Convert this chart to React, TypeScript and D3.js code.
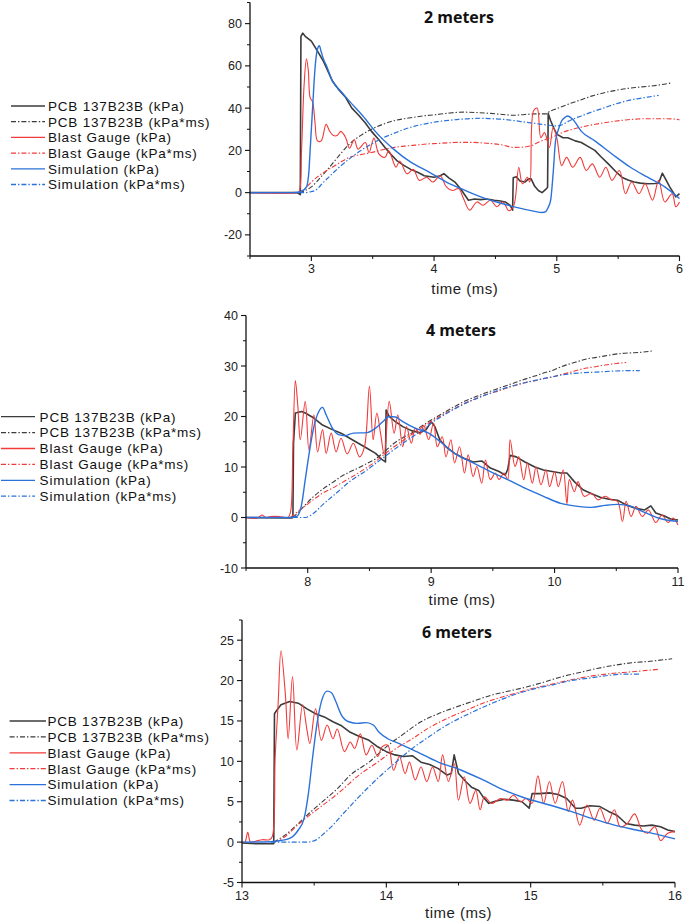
import React from 'react';
import * as d3 from 'd3';

type Pt = [number, number];

// ---------- 2 meters ----------
const m2PcbKpa: Pt[] = [[2.5,0],[2.88,0],[2.9,-0.5],[2.91,-1],[2.915,74],[2.93,75.5],[2.95,74],[3.0,71.7],[3.05,67],[3.1,62],[3.17,53],[3.22,49],[3.28,45],[3.33,40],[3.38,37],[3.44,33],[3.49,29],[3.55,25],[3.6,21.4],[3.65,18],[3.7,15],[3.75,13],[3.81,11],[3.87,9.5],[3.92,8],[4.0,7.3],[4.05,8],[4.08,9],[4.12,7],[4.17,5],[4.22,1.5],[4.28,-3.6],[4.33,-3],[4.38,-3.3],[4.43,-3],[4.49,-3.6],[4.54,-4],[4.58,-4.4],[4.62,-6],[4.64,-8.3],[4.645,7],[4.67,7.5],[4.7,5.5],[4.74,5],[4.77,6.5],[4.79,6.6],[4.82,3],[4.85,1],[4.88,0],[4.91,1.5],[4.925,2.5],[4.93,37.5],[4.95,34],[4.98,30],[5.0,27.7],[5.05,26],[5.09,26],[5.15,24.5],[5.2,23.7],[5.25,22],[5.31,20],[5.36,17],[5.42,13.6],[5.48,10],[5.53,7.3],[5.58,6],[5.63,5],[5.68,4.5],[5.74,4.2],[5.8,4.3],[5.83,4.5],[5.86,9.2],[5.89,6],[5.92,2.7],[5.95,0],[5.97,-2],[6.0,-0.5]];
const m2PcbImp: Pt[] = [[2.9,0],[2.95,1],[3.0,2.7],[3.08,7.5],[3.17,13.6],[3.24,18.5],[3.31,23],[3.4,27],[3.49,30],[3.58,32.3],[3.67,34],[3.76,35],[3.85,35.8],[3.94,36.5],[4.03,37],[4.13,37.7],[4.24,38.1],[4.35,37.9],[4.46,37.5],[4.56,37],[4.65,36.6],[4.74,37],[4.83,37.3],[4.92,37.3],[4.93,38],[4.98,39.3],[5.03,40.5],[5.1,42],[5.2,44],[5.29,45.8],[5.38,47.2],[5.47,48.3],[5.56,49.2],[5.65,49.8],[5.74,50.3],[5.84,51],[5.94,52]];
const m2BgKpa: Pt[] = [[2.5,0],[2.88,0],[2.9,0.5],[2.92,20],[2.94,50],[2.96,63.3],[2.975,58],[2.99,45],[3.01,43],[3.03,33],[3.05,24.5],[3.08,24.5],[3.12,32.3],[3.15,29],[3.18,27],[3.21,27],[3.24,29],[3.28,26],[3.31,21],[3.35,25],[3.38,20.6],[3.44,23.7],[3.47,19],[3.51,25.8],[3.55,18.3],[3.6,16.7],[3.63,19.8],[3.69,12],[3.72,15],[3.78,8.9],[3.83,11],[3.88,5.8],[3.94,7.3],[3.99,5],[4.05,8],[4.1,2.7],[4.15,1],[4.2,1.9],[4.24,-2.8],[4.29,-8.3],[4.35,-4.4],[4.4,-6],[4.46,-3.6],[4.51,-6.7],[4.56,-4.4],[4.61,-8.6],[4.65,-6],[4.69,12],[4.72,4.2],[4.76,7.3],[4.78,5],[4.81,38.6],[4.84,40],[4.87,26],[4.9,28.4],[4.94,21.4],[4.97,30.8],[5.0,26],[5.04,12.8],[5.08,16.7],[5.13,12],[5.19,16.7],[5.24,10.5],[5.29,13.6],[5.35,7.3],[5.4,12],[5.45,5.8],[5.51,10.5],[5.56,-0.5],[5.61,5],[5.67,-0.5],[5.72,4.2],[5.78,-3.6],[5.83,5.8],[5.88,-4.4],[5.94,-0.5],[5.97,-6.7],[6.0,-4.4]];
const m2BgImp: Pt[] = [[2.9,0],[2.95,2],[3.0,5],[3.08,8.8],[3.17,12],[3.24,14.5],[3.31,16.7],[3.4,18],[3.49,19],[3.58,20.3],[3.67,21.4],[3.76,22],[3.85,22.5],[3.94,23],[4.03,23.3],[4.12,23.6],[4.2,23.8],[4.29,23.8],[4.38,23.6],[4.47,23.2],[4.56,22.5],[4.65,21.4],[4.74,21.6],[4.8,22.4],[4.85,23.8],[4.9,25],[4.95,26],[5.0,27.2],[5.06,28.8],[5.13,30],[5.2,31],[5.29,32.1],[5.38,33],[5.47,33.8],[5.56,34.4],[5.65,34.8],[5.74,35],[5.82,35],[5.9,35],[6.0,34.5]];
const m2SimKpa: Pt[] = [[2.5,0],[2.85,0],[2.9,0.3],[2.93,1],[2.96,2.7],[2.98,10],[2.99,20],[3.01,40],[3.03,59],[3.05,68],[3.065,69.5],[3.08,66.7],[3.1,63],[3.12,60.5],[3.17,53],[3.24,48],[3.31,43.3],[3.42,36.3],[3.53,28.4],[3.67,20.6],[3.81,14.4],[3.96,9.7],[4.1,5],[4.24,1.4],[4.38,-2],[4.53,-4.8],[4.67,-7],[4.81,-8.75],[4.88,-9.4],[4.91,-9],[4.93,-7],[4.95,-3.6],[4.97,8.9],[4.99,24.5],[5.02,31],[5.04,34],[5.07,35.8],[5.09,36.3],[5.13,34.7],[5.2,29],[5.31,24.5],[5.45,18.3],[5.6,12],[5.74,7.3],[5.88,2.7],[6.0,-2.8]];
const m2SimImp: Pt[] = [[2.9,0],[2.95,0],[3.0,0.5],[3.03,1],[3.1,5],[3.17,8.9],[3.24,12.7],[3.31,16],[3.4,19.8],[3.49,23],[3.58,25.8],[3.67,28],[3.76,30],[3.85,31.6],[3.94,32.7],[4.03,33.6],[4.12,34.2],[4.2,34.7],[4.29,35],[4.38,35.2],[4.47,35],[4.56,34.7],[4.65,34.1],[4.74,33.4],[4.83,32.7],[4.92,32],[5.0,31.6],[5.05,32.3],[5.09,33.6],[5.14,35],[5.2,36.3],[5.29,38.3],[5.38,40],[5.47,41.8],[5.56,43.3],[5.65,44.4],[5.74,45.2],[5.83,46]];

// ---------- 4 meters ----------
const m4PcbKpa: Pt[] = [[7.5,0],[7.87,-0.1],[7.88,0],[7.885,14.7],[7.9,20.7],[7.95,21],[7.98,20.7],[8.05,19.7],[8.12,18.3],[8.2,17.4],[8.27,16.7],[8.34,15.7],[8.41,14.7],[8.48,13.7],[8.55,12.7],[8.6,11.5],[8.63,11],[8.635,21.3],[8.66,20],[8.71,19],[8.77,18],[8.84,17.2],[8.91,16.8],[8.96,17.4],[9.0,19],[9.03,18],[9.07,15.4],[9.12,14],[9.19,12.7],[9.27,11.7],[9.34,11],[9.41,11.2],[9.48,9.8],[9.55,9.1],[9.6,8.4],[9.62,9.5],[9.64,12.3],[9.69,12],[9.76,11],[9.84,10],[9.91,9.4],[9.98,9.1],[10.05,8.8],[10.1,8.8],[10.16,7.1],[10.23,5.5],[10.3,4.7],[10.37,4],[10.44,3.6],[10.51,3.4],[10.58,2.5],[10.66,1.8],[10.73,1.5],[10.78,2.3],[10.82,0.9],[10.89,0.3],[10.94,-0.3],[11.0,-0.5]];
const m4PcbImp: Pt[] = [[7.88,0],[7.93,1.2],[7.98,2.5],[8.05,4.2],[8.12,5.6],[8.2,6.9],[8.27,8.1],[8.34,9],[8.41,9.8],[8.48,10.7],[8.55,11.6],[8.62,13],[8.7,14.7],[8.77,15.8],[8.84,16.7],[8.91,17.9],[8.98,19],[9.05,20],[9.12,21],[9.2,22.1],[9.27,23],[9.34,23.7],[9.41,24.4],[9.48,25],[9.55,25.6],[9.62,26.2],[9.69,26.8],[9.76,27.4],[9.84,28],[9.91,28.6],[9.98,29.1],[10.05,29.8],[10.12,30.4],[10.19,30.9],[10.26,31.4],[10.34,31.7],[10.41,32],[10.48,32.3],[10.55,32.5],[10.62,32.6],[10.69,32.7],[10.8,33]];
const m4BgKpa: Pt[] = [[7.5,0],[7.55,-0.2],[7.6,0],[7.63,0.5],[7.66,0],[7.7,0.2],[7.77,0.2],[7.84,0],[7.86,1],[7.88,14],[7.9,27.1],[7.92,22],[7.94,15.4],[7.98,23],[8.01,13.4],[8.05,20.3],[8.08,13],[8.12,17.4],[8.15,12.7],[8.19,16.7],[8.23,13],[8.27,15.7],[8.32,12.6],[8.37,14.7],[8.42,12],[8.46,14],[8.5,26],[8.53,15.4],[8.56,20.7],[8.59,16.7],[8.62,12.5],[8.66,23],[8.7,16.7],[8.73,20.3],[8.77,14],[8.8,18],[8.84,14.7],[8.87,17.7],[8.91,16.5],[8.94,18.2],[8.98,15.4],[9.02,18.7],[9.05,14],[9.09,16],[9.12,12],[9.16,15.4],[9.19,10.8],[9.23,14],[9.27,8.8],[9.3,12.4],[9.34,8.1],[9.37,10.1],[9.41,6.8],[9.44,11.4],[9.48,7.5],[9.52,8.8],[9.55,7.5],[9.59,8.8],[9.62,7.5],[9.64,15.4],[9.68,10.1],[9.71,12],[9.75,7.5],[9.78,10.8],[9.82,6.8],[9.85,10],[9.89,6.5],[9.93,9.4],[9.96,6.1],[10.0,9.1],[10.03,6.1],[10.07,9.4],[10.1,2.7],[10.12,7.5],[10.16,5.1],[10.19,7.1],[10.24,4.2],[10.3,4.8],[10.35,3.5],[10.41,4.2],[10.46,3.5],[10.51,3.2],[10.55,-0.8],[10.58,3.2],[10.62,0.2],[10.66,2.2],[10.71,0.2],[10.76,1.5],[10.82,-1],[10.87,0.5],[10.92,-1],[10.96,-0.1],[11.0,-1.5]];
const m4BgImp: Pt[] = [[7.86,0],[7.92,1.2],[7.98,2.3],[8.05,3.6],[8.12,4.8],[8.2,5.8],[8.27,6.8],[8.34,7.8],[8.41,8.8],[8.48,9.9],[8.55,11.1],[8.62,12.5],[8.7,14],[8.77,15.2],[8.84,16.4],[8.91,17.6],[8.98,18.7],[9.05,19.7],[9.12,20.7],[9.2,21.7],[9.27,22.6],[9.34,23.3],[9.41,24],[9.48,24.6],[9.55,25.1],[9.62,25.7],[9.69,26.2],[9.76,26.7],[9.84,27.1],[9.91,27.5],[9.98,27.8],[10.05,28.3],[10.12,28.7],[10.19,29.2],[10.26,29.6],[10.34,29.9],[10.41,30.2],[10.5,30.5],[10.58,30.7]];
const m4SimKpa: Pt[] = [[7.5,0],[7.85,0],[7.91,0.2],[7.95,2.5],[7.98,7.5],[8.02,14],[8.05,18],[8.09,21],[8.12,21.8],[8.15,20.3],[8.2,17.7],[8.25,16.4],[8.3,16.2],[8.37,16.7],[8.48,16.8],[8.55,17.7],[8.61,19],[8.66,20],[8.71,19.9],[8.77,19],[8.87,17.7],[8.98,16.7],[9.09,14.7],[9.19,12.7],[9.34,10.8],[9.48,9.1],[9.62,7.5],[9.76,5.8],[9.91,4.2],[10.05,2.8],[10.19,2.2],[10.3,2],[10.41,2.4],[10.51,2.6],[10.62,2.2],[10.73,1],[10.84,-0.1],[11.0,-0.8]];
const m4SimImp: Pt[] = [[7.88,0],[7.98,0],[8.05,0.9],[8.12,2.5],[8.23,4.8],[8.34,7.1],[8.48,9.4],[8.62,12],[8.77,14.7],[8.91,17],[9.05,19.5],[9.19,21.5],[9.34,23.3],[9.48,24.6],[9.62,25.8],[9.76,26.7],[9.91,27.5],[10.05,28.2],[10.19,28.6],[10.34,28.8],[10.48,29],[10.69,29.1]];

// ---------- 6 meters ----------
const m6PcbKpa: Pt[] = [[13,-0.1],[13.1,-0.2],[13.22,-0.2],[13.225,15.9],[13.24,16.3],[13.27,17],[13.33,17.4],[13.39,17.2],[13.45,16.5],[13.51,15.9],[13.57,15.5],[13.63,14.9],[13.69,14.4],[13.75,13.6],[13.81,13.1],[13.88,12.6],[13.94,11.8],[14.0,11.2],[14.06,10.8],[14.12,10.6],[14.18,10.7],[14.24,9.9],[14.3,9.6],[14.36,9.1],[14.42,8.3],[14.45,8.5],[14.47,10.8],[14.5,8.5],[14.55,7.5],[14.59,6.8],[14.64,6.4],[14.67,5.6],[14.71,4.8],[14.76,5.1],[14.82,5.3],[14.88,5.2],[14.94,5],[14.99,4.2],[15.01,6],[15.06,6],[15.13,6.1],[15.19,5.9],[15.25,5.4],[15.31,4.2],[15.35,4.2],[15.41,4.5],[15.48,4.4],[15.54,3.8],[15.6,3.3],[15.66,2.3],[15.72,2.1],[15.78,2],[15.84,2.1],[15.9,1.9],[15.95,1.5],[16.0,1.3]];
const m6PcbImp: Pt[] = [[13.22,0],[13.3,0.9],[13.39,2.3],[13.48,3.8],[13.57,5.2],[13.66,6.6],[13.75,8.3],[13.88,9.9],[14.0,11.8],[14.12,13.4],[14.24,14.9],[14.36,15.9],[14.48,16.7],[14.61,17.5],[14.73,18.2],[14.85,18.7],[14.97,19.2],[15.09,19.8],[15.22,20.5],[15.34,21],[15.46,21.5],[15.58,21.9],[15.7,22.2],[15.83,22.4],[15.98,22.7]];
const m6BgKpa: Pt[] = [[13,0],[13.02,0],[13.04,1.2],[13.06,0],[13.11,0.2],[13.14,0.3],[13.19,0.3],[13.21,0.7],[13.23,10.6],[13.25,17],[13.27,23.7],[13.3,18.4],[13.32,12.8],[13.35,20.5],[13.38,11.4],[13.42,17],[13.45,13.9],[13.47,12.2],[13.51,16.5],[13.55,12.6],[13.59,14.5],[13.63,12.8],[13.66,14],[13.71,11.2],[13.75,12.4],[13.78,11.6],[13.82,13.4],[13.86,10.8],[13.9,12],[13.94,10.6],[13.97,11.8],[14.01,12],[14.05,8.9],[14.09,10.6],[14.13,8.5],[14.16,9.9],[14.2,7.7],[14.24,9.3],[14.28,7.5],[14.32,9.3],[14.36,7.5],[14.39,10.8],[14.43,7.5],[14.47,9.7],[14.5,5.2],[14.54,8.1],[14.58,4.8],[14.62,6.4],[14.65,4],[14.68,5.6],[14.73,4.8],[14.79,5.4],[14.84,5.2],[14.88,5.8],[14.93,5],[14.97,5.4],[15.01,4.8],[15.05,8.2],[15.09,4.8],[15.13,7.5],[15.17,4.8],[15.22,7.5],[15.26,3.8],[15.29,5.2],[15.34,2.1],[15.39,4.6],[15.44,2.7],[15.48,4.2],[15.53,2.3],[15.58,4],[15.62,1.9],[15.67,2.3],[15.72,3.5],[15.77,1.5],[15.81,1.1],[15.86,1.9],[15.9,0.2],[15.95,1.1],[16.0,1.3]];
const m6BgImp: Pt[] = [[13.22,0],[13.3,0.7],[13.39,2.2],[13.48,3.5],[13.57,4.7],[13.69,6.4],[13.81,8.3],[13.94,9.9],[14.06,11.5],[14.18,12.8],[14.3,14.2],[14.42,15.3],[14.55,16.3],[14.67,17.2],[14.79,17.9],[14.91,18.5],[15.03,19.1],[15.16,19.6],[15.28,20.1],[15.4,20.5],[15.52,20.8],[15.64,21],[15.77,21.2],[15.89,21.4]];
const m6SimKpa: Pt[] = [[13,0],[13.2,0.05],[13.27,0.2],[13.33,0.45],[13.39,1.5],[13.43,2.9],[13.46,6],[13.49,10.6],[13.52,14.7],[13.55,17.4],[13.59,18.7],[13.62,18.5],[13.65,17.4],[13.69,15.7],[13.74,14.9],[13.8,14.7],[13.86,14.8],[13.91,14.5],[13.95,13.6],[14.01,12.8],[14.09,12.2],[14.21,11.2],[14.36,9.9],[14.52,8.9],[14.67,7.7],[14.82,6.4],[14.97,5.4],[15.13,4.6],[15.28,3.8],[15.43,2.9],[15.58,2.1],[15.73,1.5],[15.89,0.9],[16.0,0.4]];
const m6SimImp: Pt[] = [[13.2,0],[13.45,0],[13.51,0.25],[13.57,1.1],[13.63,2.1],[13.69,3.3],[13.81,5.6],[13.94,7.9],[14.06,9.8],[14.18,11.6],[14.3,13.1],[14.42,14.5],[14.55,15.7],[14.67,16.7],[14.79,17.6],[14.91,18.4],[15.03,19],[15.16,19.5],[15.28,20],[15.4,20.3],[15.52,20.6],[15.64,20.8],[15.75,20.8]];

// ---------- labels / ticks ----------
const seriesLabels = ['PCB 137B23B (kPa)', 'PCB 137B23B (kPa*ms)', 'Blast Gauge (kPa)', 'Blast Gauge (kPa*ms)', 'Simulation (kPa)', 'Simulation (kPa*ms)'];
const panelTitles = ['2 meters', '4 meters', '6 meters'];
const xLabel = 'time (ms)';
const xTicks2 = [3, 4, 5, 6];
const xTicks4 = [8, 9, 10, 11];
const xTicks6 = [13, 14, 15, 16];
const yTicks2 = [-20, 0, 20, 40, 60, 80];
const yTicks4 = [-10, 0, 10, 20, 30, 40];
const yTicks6 = [-5, 0, 5, 10, 15, 20, 25];

const COLORS = ['#3b3b3b', '#3b3b3b', '#f23a3a', '#f23a3a', '#2a72da', '#2a72da'];
const DASHED = [false, true, false, true, false, true];
const WIDTHS = [1.6, 1.1, 1.1, 1.1, 1.4, 1.2];
const CURVES = [d3.curveLinear, d3.curveMonotoneX, d3.curveCatmullRom.alpha(0.5), d3.curveMonotoneX, d3.curveMonotoneX, d3.curveMonotoneX];
const DASH = '5,2,1.4,2';
const FONT = '"Liberation Sans", Arial, sans-serif';

interface PanelCfg {
  title: string;
  series: Pt[][];
  xDomain: [number, number];
  yDomain: [number, number];
  xRange: [number, number];
  yRange: [number, number];
  xTicks: number[];
  yTicks: number[];
  xMinor: number;
  yMinor: number;
  titlePos: [number, number];
  legend: { x0: number; x1: number; tx: number; y0: number; dy: number };
  tickLabelY: number;
  axisLabelY: number;
}

const panels: PanelCfg[] = [
  {
    title: panelTitles[0],
    series: [m2PcbKpa, m2PcbImp, m2BgKpa, m2BgImp, m2SimKpa, m2SimImp],
    xDomain: [2.5, 6], yDomain: [-30, 90],
    xRange: [250, 679.5], yRange: [256, 2.5],
    xTicks: xTicks2, yTicks: yTicks2, xMinor: 0.5, yMinor: 10,
    titlePos: [459, 22.5],
    legend: { x0: 11, x1: 45, tx: 48, y0: 106, dy: 15.7 },
    tickLabelY: 272.5, axisLabelY: 294,
  },
  {
    title: panelTitles[1],
    series: [m4PcbKpa, m4PcbImp, m4BgKpa, m4BgImp, m4SimKpa, m4SimImp],
    xDomain: [7.5, 11], yDomain: [-10, 40],
    xRange: [246, 678], yRange: [568, 315.5],
    xTicks: xTicks4, yTicks: yTicks4, xMinor: 0.5, yMinor: 5,
    titlePos: [461, 336],
    legend: { x0: 1, x1: 35, tx: 39.6, y0: 416.7, dy: 15.9 },
    tickLabelY: 585.5, axisLabelY: 605,
  },
  {
    title: panelTitles[2],
    series: [m6PcbKpa, m6PcbImp, m6BgKpa, m6BgImp, m6SimKpa, m6SimImp],
    xDomain: [13, 16], yDomain: [-5, 27.5],
    xRange: [242, 675], yRange: [882.5, 620],
    xTicks: xTicks6, yTicks: yTicks6, xMinor: 0.5, yMinor: 2.5,
    titlePos: [457, 638],
    legend: { x0: 9.6, x1: 46, tx: 47.4, y0: 721, dy: 15.9 },
    tickLabelY: 899.5, axisLabelY: 918,
  },
];

function range(a: number, b: number, step: number): number[] {
  const out: number[] = [];
  for (let v = a; v <= b + 1e-9; v += step) out.push(Math.round(v * 1000) / 1000);
  return out;
}

function Panel({ cfg }: { cfg: PanelCfg }) {
  const x = d3.scaleLinear().domain(cfg.xDomain).range(cfg.xRange);
  const y = d3.scaleLinear().domain(cfg.yDomain).range(cfg.yRange);
  const [xa, xb] = cfg.xRange;
  const [yb, yt] = cfg.yRange;
  const xMinorTicks = range(cfg.xDomain[0], cfg.xDomain[1], cfg.xMinor).filter(v => !cfg.xTicks.includes(v));
  const yMinorTicks = range(cfg.yDomain[0], cfg.yDomain[1], cfg.yMinor).filter(v => !cfg.yTicks.includes(v));
  return (
    <g>
      {cfg.series.map((data, i) => {
        const gen = d3.line<Pt>().x(d => x(d[0])).y(d => y(d[1])).curve(CURVES[i]);
        return (
          <path key={i} d={gen(data) || ''} fill="none" stroke={COLORS[i]} strokeWidth={WIDTHS[i]}
            strokeDasharray={DASHED[i] ? DASH : undefined} strokeLinejoin="round" />
        );
      })}
      <line x1={xa} x2={xa} y1={yt} y2={yb} stroke="#111" strokeWidth={1.3} />
      <line x1={xa} x2={xb} y1={yb} y2={yb} stroke="#111" strokeWidth={1.3} />
      {cfg.yTicks.map(v => (
        <g key={'yt' + v}>
          <line x1={xa - 5} x2={xa} y1={y(v)} y2={y(v)} stroke="#111" strokeWidth={1.1} />
          <text x={xa - 8} y={y(v)} dy="0.36em" textAnchor="end" fontSize={12.5} fontFamily={FONT} fill="#222">{v}</text>
        </g>
      ))}
      {yMinorTicks.map(v => (
        <line key={'ym' + v} x1={xa - 3} x2={xa} y1={y(v)} y2={y(v)} stroke="#111" strokeWidth={1} />
      ))}
      {cfg.xTicks.map(v => (
        <g key={'xt' + v}>
          <line x1={x(v)} x2={x(v)} y1={yb} y2={yb + 5} stroke="#111" strokeWidth={1.1} />
          <text x={x(v)} y={cfg.tickLabelY} textAnchor="middle" fontSize={12.5} fontFamily={FONT} fill="#222">{v}</text>
        </g>
      ))}
      {xMinorTicks.map(v => (
        <line key={'xm' + v} x1={x(v)} x2={x(v)} y1={yb} y2={yb + 3} stroke="#111" strokeWidth={1} />
      ))}
      <text x={(xa + xb) / 2} y={cfg.axisLabelY} textAnchor="middle" fontSize={15} fontFamily={FONT} fill="#222" letterSpacing={0.5}>{xLabel}</text>
      <text x={cfg.titlePos[0]} y={cfg.titlePos[1]} textAnchor="middle" fontSize={16} fontWeight="bold" fontFamily='"Open Sans", sans-serif' fill="#111">{cfg.title}</text>
      {seriesLabels.map((lab, i) => {
        const ly = cfg.legend.y0 + i * cfg.legend.dy;
        return (
          <g key={'lg' + i}>
            <line x1={cfg.legend.x0} x2={cfg.legend.x1} y1={ly} y2={ly} stroke={COLORS[i]} strokeWidth={1.3}
              strokeDasharray={DASHED[i] ? DASH : undefined} />
            <text x={cfg.legend.tx} y={ly} dy="0.36em" fontSize={13.5} fontFamily={FONT} fill="#111" letterSpacing={0.8}>{lab}</text>
          </g>
        );
      })}
    </g>
  );
}

export default function App() {
  return (
    <svg width={685} height={922} viewBox="0 0 685 922"
      style={{ position: 'absolute', left: 0, top: 0, background: '#fff' }}>
      <rect x={0} y={0} width={685} height={922} fill="#fff" />
      {panels.map((p, i) => <Panel key={i} cfg={p} />)}
    </svg>
  );
}
